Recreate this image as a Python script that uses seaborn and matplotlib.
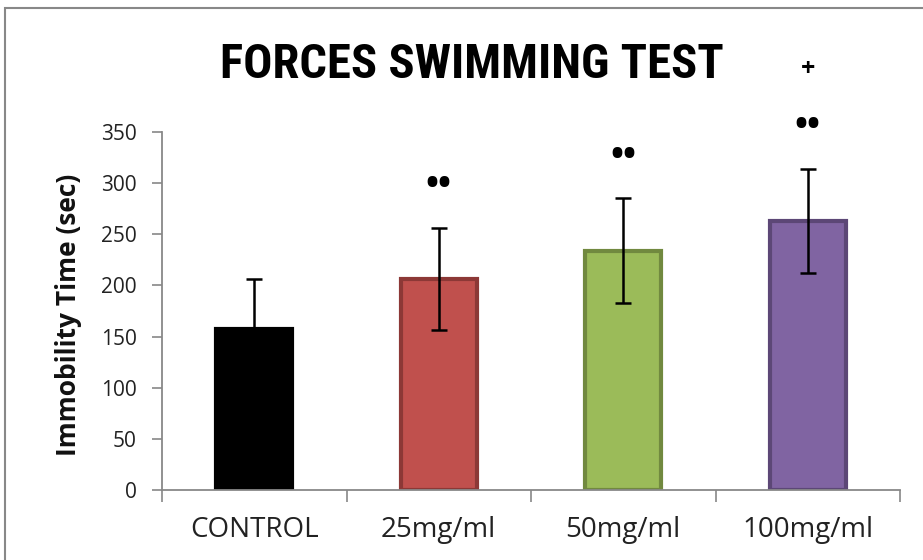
import matplotlib
matplotlib.use("Agg")
import matplotlib.pyplot as plt
import seaborn as sns
import pandas as pd
from matplotlib.patches import Rectangle
from matplotlib import font_manager

categories = ["CONTROL", "25mg/ml", "50mg/ml", "100mg/ml"]
means = [157, 206, 234, 263]
errors = [49, 50, 51, 51]
sig_marks = ["", "••", "••", "••"]
extra_marks = ["", "", "", "+"]
yticks = [0, 50, 100, 150, 200, 250, 300, 350]

fill_colors = ["#000000", "#C0504D", "#9BBB59", "#8064A2"]
edge_colors = ["#000000", "#8C3836", "#71893F", "#5C4776"]

names = {f.name for f in font_manager.fontManager.ttflist}
title_font = "Roboto"
for cand in ["Roboto Condensed", "Liberation Sans Narrow", "Open Sans Condensed"]:
    if cand in names:
        title_font = cand
        break

sns.set_theme(style="white")
plt.rcParams['font.family'] = ['Open Sans', 'DejaVu Sans']
plt.rcParams['text.color'] = '#111111'

df = pd.DataFrame({"group": categories, "time": means})

fig = plt.figure(figsize=(9.23, 5.6), dpi=100)
ax = fig.add_axes([162/923, 1-490/560, (900-162)/923, (490-132)/560])

sns.barplot(data=df, x="group", y="time", hue="group", palette=fill_colors,
            order=categories, errorbar=None, width=0.41, legend=False,
            saturation=1, ax=ax)
for p, ec in zip(ax.patches, edge_colors):
    p.set_edgecolor(ec)
    p.set_linewidth(3)

xs = list(range(len(categories)))
ax.errorbar(xs, means, yerr=errors, fmt="none", ecolor="black", elinewidth=1.8,
            capsize=6, capthick=1.8, zorder=5)

for i, (m, e, s, t) in enumerate(zip(means, errors, sig_marks, extra_marks)):
    if s:
        ax.text(i, m + e + 41, s, ha="center", va="center", fontsize=25,
                fontweight="bold", color="black", clip_on=False)
    if t:
        ax.text(i, m + e + 97, t, ha="center", va="center", fontsize=18,
                fontweight="bold", color="black", clip_on=False)

ax.set_ylim(0, 350)
ax.set_xlim(-0.5, 3.5)
ax.set_yticks(yticks)
ax.set_yticklabels([str(v) for v in yticks], fontsize=15, color="#222222")
ax.set_xticks(xs)
ax.set_xticklabels(categories, fontsize=20, color="#222222")
ax.set_xticks([x - 0.5 for x in range(len(categories) + 1)], minor=True)
ax.tick_params(axis="x", which="major", length=0, pad=19)
ax.tick_params(axis="x", which="minor", length=8.5, width=1.2, color="#888888", direction="out", bottom=True)
ax.tick_params(axis="y", which="major", length=7, width=1.2, color="#888888", direction="out", left=True, pad=11)

for side in ["top", "right"]:
    ax.spines[side].set_visible(False)
for side in ["left", "bottom"]:
    ax.spines[side].set_color("#888888")
    ax.spines[side].set_linewidth(1.3)

ax.set_xlabel("")
ax.set_ylabel("Immobility Time (sec)", fontsize=19, fontweight="bold", color="#111111")
ax.yaxis.set_label_coords((82 - 162) / 738, 0.49)

fig.text(472/923, 1-65/560, "FORCES SWIMMING TEST", ha="center", va="center",
         fontsize=35, fontweight="bold", color="black",
         family=[title_font, "DejaVu Sans"])

fig.patches.append(Rectangle((5/923, -0.1), 1.2, 1 - 8/560 + 0.1, transform=fig.transFigure,
                             fill=False, edgecolor="#888888", linewidth=1.5))

fig.savefig("out.png", dpi=100)
